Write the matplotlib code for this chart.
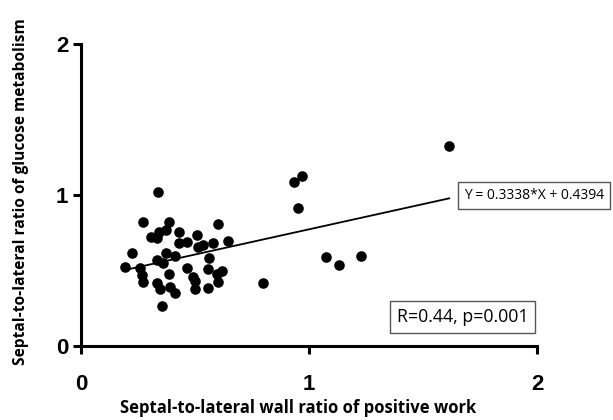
import matplotlib
matplotlib.use("Agg")
import matplotlib.pyplot as plt
import numpy as np

# positive work ratio (x) vs glucose metabolism ratio (y)
work_ratio = [0.339, 0.273, 0.387, 0.602, 0.373, 0.342, 0.430, 0.306, 0.332, 0.507,
              0.431, 0.464, 0.514, 0.534, 0.580, 0.646, 0.225, 0.373, 0.412, 0.332,
              0.361, 0.563, 0.193, 0.259, 0.466, 0.558, 0.617, 0.268, 0.387, 0.598,
              0.273, 0.493, 0.500, 0.335, 0.602, 0.346, 0.390, 0.412, 0.500, 0.556,
              0.800, 0.357, 1.615, 0.968, 0.934, 0.953, 1.073, 1.133, 1.228]
glucose_ratio = [1.018, 0.819, 0.823, 0.808, 0.768, 0.757, 0.755, 0.724, 0.717, 0.733,
                 0.680, 0.691, 0.658, 0.669, 0.680, 0.695, 0.614, 0.614, 0.596, 0.570,
                 0.552, 0.581, 0.525, 0.515, 0.515, 0.510, 0.499, 0.470, 0.477, 0.477,
                 0.426, 0.455, 0.432, 0.415, 0.422, 0.375, 0.389, 0.353, 0.375, 0.382,
                 0.415, 0.267, 1.327, 1.128, 1.084, 0.912, 0.589, 0.534, 0.594]

slope = 0.3338
intercept = 0.4394
ticks = [0, 1, 2]

fig = plt.figure(figsize=(6.13, 4.2), dpi=100)
ax = fig.add_axes([0.132, 0.176, 0.744, 0.719])

ax.scatter(work_ratio, glucose_ratio, s=58, color="black", zorder=3, linewidths=0)

xfit = np.array([min(work_ratio), max(work_ratio)])
ax.plot(xfit, slope * xfit + intercept, color="black", lw=1.3, zorder=2)

ax.set_xlim(0, 2)
ax.set_ylim(0, 2)
ax.set_xticks(ticks)
ax.set_yticks(ticks)
ax.set_xticklabels([str(t) for t in ticks], fontfamily="Liberation Sans", fontweight="bold", fontsize=16)
ax.set_yticklabels([str(t) for t in ticks], fontfamily="Liberation Sans", fontweight="bold", fontsize=16)
ax.tick_params(direction="out", length=6, width=2.2)
ax.tick_params(axis="x", pad=14)
ax.tick_params(axis="y", pad=3)

for side in ["top", "right"]:
    ax.spines[side].set_visible(False)
for side in ["left", "bottom"]:
    ax.spines[side].set_linewidth(2.2)

ax.set_xlabel("Septal-to-lateral wall ratio of positive work", fontfamily="Open Sans",
              fontweight="bold", fontsize=12)
ax.set_ylabel("Septal-to-lateral ratio of glucose metabolism", fontfamily="Open Sans",
              fontweight="bold", fontsize=11.2)
ax.xaxis.set_label_coords(0.476, -0.205)
ax.xaxis.label.set_va("center")
ax.yaxis.set_label_coords(-0.132, 0.51)
ax.yaxis.label.set_va("center")

ax.text(1.68, 0.997, "Y = 0.3338*X + 0.4394", fontfamily="Open Sans", fontsize=10,
        ha="left", va="center", clip_on=False,
        bbox=dict(boxstyle="square,pad=0.45", fc="white", ec="#555555", lw=1))
ax.text(1.673, 0.192, "R=0.44, p=0.001", fontfamily="Open Sans", fontsize=12.8,
        ha="center", va="center",
        bbox=dict(boxstyle="square,pad=0.4", fc="white", ec="#555555", lw=1))

plt.savefig("out.png", dpi=100)
